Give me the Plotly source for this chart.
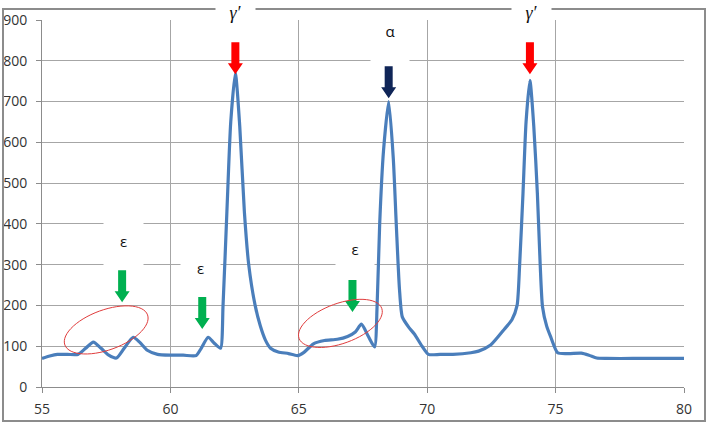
import numpy as np
import plotly.graph_objects as go

# ---- data ----
two_theta = [55.0, 55.3, 55.6, 56.0, 56.4, 56.7, 57.0, 57.3, 57.6, 57.9, 58.2, 58.55, 58.8, 59.1, 59.5,
             60.0, 60.5, 61.0, 61.2, 61.47, 61.7, 61.95, 62.05, 62.2, 62.35, 62.53, 62.7, 62.88, 63.05,
             63.3, 63.5, 63.7, 63.9, 64.2, 64.6, 64.95, 65.2, 65.57, 66.0, 66.5, 66.9, 67.2, 67.44, 67.7,
             67.95, 68.05, 68.15, 68.3, 68.5, 68.68, 68.8, 68.92, 69.03, 69.3, 69.5, 69.8, 70.05, 70.5,
             71.0, 71.7, 72.0, 72.47, 72.98, 73.3, 73.5, 73.6, 73.73, 73.85, 74.0, 74.15, 74.29, 74.4,
             74.49, 74.65, 74.81, 75.08, 75.5, 76.0, 76.3, 76.6, 77.0, 78.0, 79.0, 80.0]
intensity = [70, 76, 80, 80, 80, 95, 110, 95, 78, 71, 95, 122, 110, 90, 80,
             78, 78, 77, 95, 122, 108, 95, 200, 430, 650, 770, 640, 430, 300,
             200, 150, 115, 95, 86, 82, 77, 85, 106, 114, 117, 124, 135, 154, 125,
             98, 200, 400, 580, 700, 560, 393, 240, 172, 145, 130, 100, 80, 80,
             80, 84, 88, 103, 140, 165, 200, 300, 475, 650, 752, 640, 475, 300,
             197, 150, 123, 84, 82, 83, 78, 71, 70, 70, 70, 70]

x_ticks = [55, 60, 65, 70, 75, 80]
y_ticks = [0, 100, 200, 300, 400, 500, 600, 700, 800, 900]

# phase labels (x in data units; top labels y in paper units, others in data units)
top_label_text = ["<i>γ′</i>", "<i>γ′</i>"]
top_label_x = [62.53, 74.07]
label_text = ["α", "ε", "ε", "ε"]
label_x = [68.57, 58.16, 61.16, 67.17]
label_y = [847, 358, 292, 338]

# arrows (x position, tip value)
arrow_x = [62.53, 68.5, 74.0, 58.12, 61.24, 67.09]
arrow_tip = [767, 708, 767, 208, 142, 184]
arrow_color = ["#FF0000", "#0F2557", "#FF0000", "#00B050", "#00B050", "#00B050"]

# ellipses (centre)
ellipse_x = [57.5, 66.62]
ellipse_y = [140, 156]

fig = go.Figure()
fig.add_trace(go.Scatter(x=two_theta, y=intensity, mode="lines",
                         line=dict(color="#4A7EBB", width=3.2, shape="spline", smoothing=0.6),
                         showlegend=False, hoverinfo="skip"))

shapes = []
# outer chart border
L, R, T, B = 42, 24, 20, 38
W, H = 708, 425
pw, ph = W - L - R, H - T - B
def px2paper(px, py):
    return (px - L) / pw, (H - B - py) / ph
bx0, by0 = px2paper(3, 421)
bx1, by1 = px2paper(705, 9)
shapes.append(dict(type="rect", xref="paper", yref="paper", x0=bx0, y0=by0, x1=bx1, y1=by1,
                   line=dict(color="#8C8C8C", width=2), layer="above"))

# arrows as pixel-sized paths
arrow_path = "M -4,32 L 4,32 L 4,11 L 7.5,11 L 0,0 L -7.5,11 L -4,11 Z"
for ax_, ay_, c in zip(arrow_x, arrow_tip, arrow_color):
    shapes.append(dict(type="path", xref="x", yref="y", xsizemode="pixel", ysizemode="pixel",
                       xanchor=ax_, yanchor=ay_, path=arrow_path,
                       fillcolor=c, line=dict(width=0), layer="above"))

# tilted ellipses
t = np.linspace(0, 2 * np.pi, 61)
a, b, ang = 44, 20, np.deg2rad(20)
ex = a * np.cos(t) * np.cos(ang) - b * np.sin(t) * np.sin(ang)
ey = a * np.cos(t) * np.sin(ang) + b * np.sin(t) * np.cos(ang)
epath = "M " + " L ".join(f"{u:.2f},{v:.2f}" for u, v in zip(ex, ey)) + " Z"
for cx, cy in zip(ellipse_x, ellipse_y):
    shapes.append(dict(type="path", xref="x", yref="y", xsizemode="pixel", ysizemode="pixel",
                       xanchor=cx, yanchor=cy, path=epath,
                       line=dict(color="#E03C3C", width=1), layer="above"))

annotations = []
_, top_py = px2paper(0, 13)
for txt, lx in zip(top_label_text, top_label_x):
    annotations.append(dict(x=lx, y=top_py, xref="x", yref="paper", yanchor="middle", xanchor="center",
                            text=txt, showarrow=False,
                            bgcolor="white", width=37, height=20, borderpad=1,
                            font=dict(family="Liberation Serif", size=18, color="#111")))
sizes = [(36, 41, "top"), (37, 46, "middle"), (37, 40, "middle"), (36, 42, "middle")]
for txt, lx, ly, (w, h, va) in zip(label_text, label_x, label_y, sizes):
    annotations.append(dict(x=lx, y=ly, xref="x", yref="y", text=txt, showarrow=False,
                            bgcolor="white", width=w, height=h, valign=va, borderpad=1,
                            font=dict(family="Open Sans", size=15, color="#111")))

fig.update_layout(
    width=W, height=H, margin=dict(l=L, r=R, t=T, b=B, autoexpand=False),
    paper_bgcolor="white", plot_bgcolor="white",
    shapes=shapes, annotations=annotations,
    font=dict(family="Open Sans", size=14, color="#333"),
)
fig.update_xaxes(range=[55, 80], tickvals=x_ticks, showgrid=True, gridcolor="#A6A6A6", gridwidth=1,
                 showline=True, linecolor="#8C8C8C", linewidth=1, ticks="outside", ticklen=5,
                 tickcolor="#8C8C8C", zeroline=False, ticklabelstandoff=4, automargin=False)
fig.update_yaxes(range=[0, 900], tickvals=y_ticks, showgrid=True, gridcolor="#A6A6A6", gridwidth=1,
                 showline=True, linecolor="#8C8C8C", linewidth=1, ticks="outside", ticklen=5,
                 tickcolor="#8C8C8C", zeroline=False, ticklabelstandoff=6, automargin=False)

fig.write_html("out.html")
